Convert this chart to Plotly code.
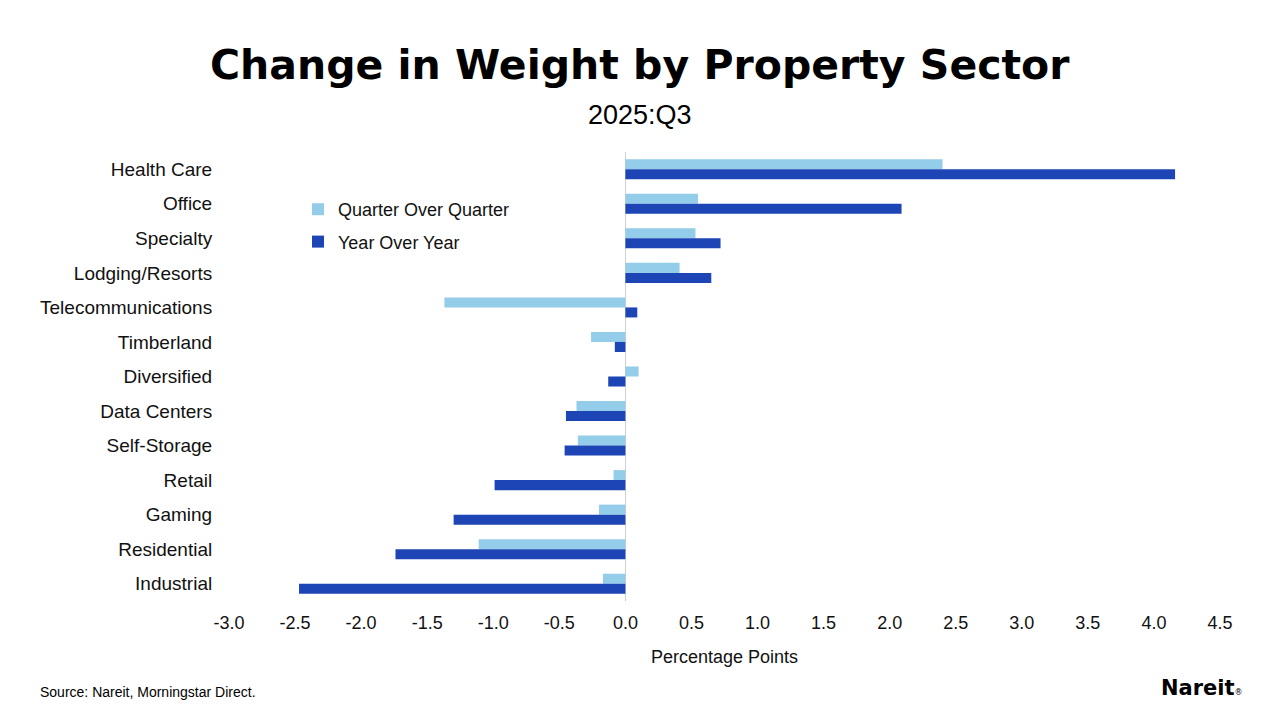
import plotly.graph_objects as go

categories = ["Health Care", "Office", "Specialty", "Lodging/Resorts", "Telecommunications",
              "Timberland", "Diversified", "Data Centers", "Self-Storage", "Retail",
              "Gaming", "Residential", "Industrial"]
qoq = [2.40, 0.55, 0.53, 0.41, -1.37, -0.26, 0.10, -0.37, -0.36, -0.09, -0.20, -1.11, -0.17]
yoy = [4.16, 2.09, 0.72, 0.65, 0.09, -0.08, -0.13, -0.45, -0.46, -0.99, -1.30, -1.74, -2.47]
x_ticks = [-3.0, -2.5, -2.0, -1.5, -1.0, -0.5, 0.0, 0.5, 1.0, 1.5, 2.0, 2.5, 3.0, 3.5, 4.0, 4.5]

FONT = "Liberation Sans, Arial, sans-serif"
L, R, T, B = 229, 60, 152, 119
W, H = 1280, 720
PW, PH = W - L - R, H - T - B


def px(x):
    return (x - L) / PW


def py(y):
    return (H - B - y) / PH


fig = go.Figure()
fig.add_trace(go.Bar(y=categories, x=qoq, orientation="h", name="Quarter Over Quarter",
                     legendgroup="a", marker=dict(color="#93CDEA", line=dict(width=0))))
fig.add_trace(go.Bar(y=categories, x=yoy, orientation="h", name="Year Over Year",
                     legendgroup="b", marker=dict(color="#1D45B5", line=dict(width=0))))

fig.update_layout(
    width=W, height=H,
    paper_bgcolor="white", plot_bgcolor="white",
    margin=dict(l=L, r=R, t=T, b=B),
    barmode="group", bargap=0.42, bargroupgap=0,
    font=dict(family=FONT, size=18, color="#111"),
    showlegend=True,
    legend=dict(x=px(298), y=py(191), xanchor="left", yanchor="top",
                font=dict(family=FONT, size=18, color="#111"),
                bgcolor="rgba(0,0,0,0)", itemwidth=30, tracegroupgap=6),
    xaxis=dict(range=[-3.0, 4.5], tickvals=x_ticks,
               ticktext=[f"{v:.1f}" for v in x_ticks],
               showgrid=False, zeroline=True, zerolinecolor="#d0d0d0", zerolinewidth=1,
               showline=False, ticks="outside", ticklen=5, tickcolor="rgba(0,0,0,0)",
               tickfont=dict(size=18),
               title=dict(text="Percentage Points", font=dict(size=18), standoff=18)),
    yaxis=dict(autorange="reversed", showgrid=False, zeroline=False, showline=False,
               ticks="outside", ticklen=12, tickcolor="rgba(0,0,0,0)",
               tickfont=dict(size=19)),
    annotations=[
        dict(text="<b>Change in Weight by Property Sector</b>", x=px(640), y=py(65),
             xref="paper", yref="paper", xanchor="center", yanchor="middle",
             showarrow=False, font=dict(family="DejaVu Sans, sans-serif", size=41, color="black")),
        dict(text="2025:Q3", x=px(640), y=py(115), xref="paper", yref="paper",
             xanchor="center", yanchor="middle", showarrow=False,
             font=dict(family=FONT, size=27, color="black")),
        dict(text="Source: Nareit, Morningstar Direct.", x=px(38), y=py(692),
             xref="paper", yref="paper", xanchor="left", yanchor="middle",
             showarrow=False, font=dict(family=FONT, size=14, color="black")),
        dict(text="<b>Nareit</b><span style='font-size:8px'>®</span>", x=px(1245), y=py(688),
             xref="paper", yref="paper", xanchor="right", yanchor="middle",
             showarrow=False, font=dict(family="DejaVu Sans, sans-serif", size=21, color="black")),
    ],
)

fig.write_html("out.html")
